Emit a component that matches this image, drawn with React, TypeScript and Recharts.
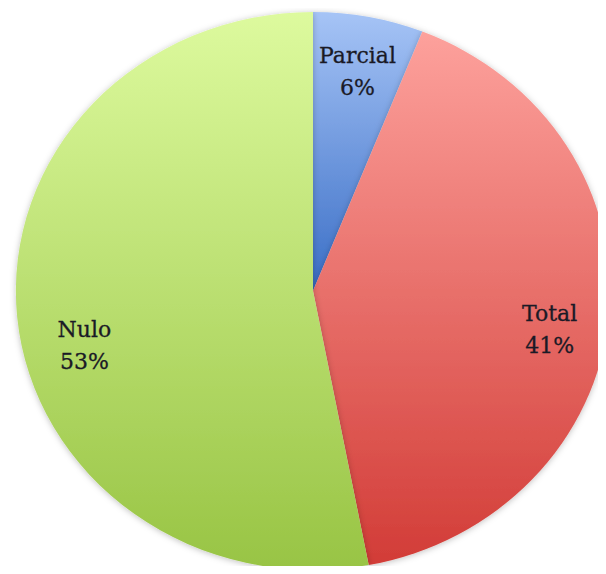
import React from "react";
import { PieChart, Pie, Cell, Sector } from "recharts";

const NAMES = ["Parcial", "Total", "Nulo"];
const VALUES = [6, 41, 53];

const data = NAMES.map((name, i) => ({ name, value: VALUES[i] }));

// the original pie is slightly wider than tall
const SX = 1.065;
const RADIAN = Math.PI / 180;

const GRADS = [
  { id: "gParcial", top: "#a6c4f6", bottom: "#3a6ec6" },
  { id: "gTotal", top: "#fda19c", bottom: "#d23c37" },
  { id: "gNulo", top: "#ddfa9e", bottom: "#98c444" },
];

// small label tweaks to sit where the original puts them
const NUDGE: Record<string, [number, number]> = {
  Parcial: [0, 0],
  Total: [0, 17],
  Nulo: [8, 33],
};

const StretchedSector = (props: any) => {
  const { cx, cy } = props;
  return (
    <g transform={`translate(${cx} ${cy}) scale(${SX} 1) translate(${-cx} ${-cy})`}>
      <Sector {...props} stroke="none" />
    </g>
  );
};

const renderLabel = (props: any) => {
  const { cx, cy, midAngle, outerRadius, name, percent } = props;
  const r = outerRadius * 0.8;
  const [dx, dy] = NUDGE[name] ?? [0, 0];
  const x = cx + r * Math.cos(-midAngle * RADIAN) * SX + dx;
  const y = cy + r * Math.sin(-midAngle * RADIAN) + dy;
  return (
    <text
      x={x}
      y={y}
      textAnchor="middle"
      fill="#1a1a26"
      stroke="#1a1a26"
      strokeWidth={0.3}
      fontFamily="'DejaVu Serif', serif"
      fontSize={22}
    >
      <tspan x={x} y={y - 16} dominantBaseline="central">{name}</tspan>
      <tspan x={x} y={y + 16} dominantBaseline="central">{`${Math.round(percent * 100)}%`}</tspan>
    </text>
  );
};

export default function App() {
  return (
    <div style={{ margin: -8, width: 606, height: 574, background: "#fff" }}>
      <PieChart width={606} height={574} margin={{ top: 0, right: 0, bottom: 0, left: 0 }}>
        <defs>
          {GRADS.map((g) => (
            <linearGradient key={g.id} id={g.id} x1="0" y1="0" x2="0" y2="1">
              <stop offset="0%" stopColor={g.top} />
              <stop offset="100%" stopColor={g.bottom} />
            </linearGradient>
          ))}
          <filter id="soft" x="-10%" y="-10%" width="120%" height="120%">
            <feDropShadow dx="0" dy="1" stdDeviation="3" floodColor="#000" floodOpacity="0.25" />
          </filter>
        </defs>
        <Pie
          data={data}
          dataKey="value"
          nameKey="name"
          cx={313}
          cy={291}
          outerRadius={279}
          startAngle={90}
          endAngle={-270}
          stroke="none"
          labelLine={false}
          label={renderLabel}
          shape={StretchedSector}
          inactiveShape={StretchedSector}
          activeShape={StretchedSector}
          isAnimationActive={false}
          style={{ filter: "url(#soft)" }}
        >
          {data.map((d, i) => (
            <Cell key={d.name} fill={`url(#${GRADS[i].id})`} />
          ))}
        </Pie>
      </PieChart>
    </div>
  );
}
